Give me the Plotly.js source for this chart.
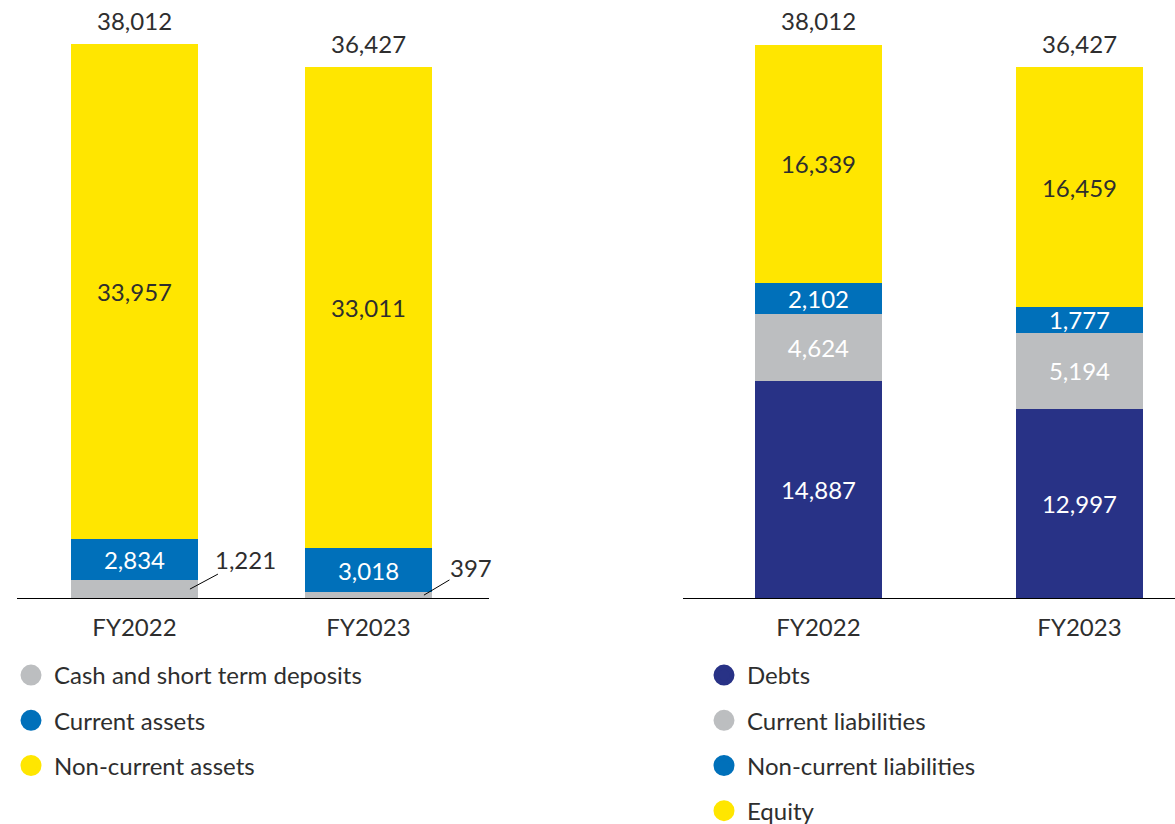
<!DOCTYPE html>
<html>
<head>
<meta charset="utf-8">
<script src="https://cdn.plot.ly/plotly-3.0.1.min.js"></script>
<style>html,body{margin:0;padding:0;background:#fff;}#chart{width:1175px;height:824px;}</style>
</head>
<body>
<div id="chart"></div>
<script>
// ---- data ----
const years = ['FY2022', 'FY2023'];
const cashDeposits = [1221, 397];
const currentAssets = [2834, 3018];
const nonCurrentAssets = [33957, 33011];
const assetTotals = [38012, 36427];

const debts = [14887, 12997];
const currentLiabilities = [4624, 5194];
const nonCurrentLiabilities = [2102, 1777];
const equity = [16339, 16459];
const liabTotals = [38012, 36427];

// ---- styles ----
const FONT = 'Lato, "Open Sans", sans-serif';
const FS = 24;
const DARK = '#2e2e2e';
const C_GRAY = '#BCBEC0', C_BLUE = '#0070BA', C_YELLOW = '#FFE600', C_NAVY = '#283286';
const fmt = v => v.toLocaleString('en-US');

function barTrace(name, vals, color, txtColor, xa, ya, width, showText) {
  return {
    type: 'bar', name: name, x: years, y: vals, xaxis: xa, yaxis: ya,
    width: width, showlegend: false, hoverinfo: 'skip',
    marker: {color: color, line: {width: 0}},
    text: showText ? vals.map(fmt) : null,
    texttemplate: showText ? '%{text}' : '',
    textposition: showText ? 'inside' : 'none',
    insidetextanchor: 'middle', textangle: 0, constraintext: 'none',
    textfont: {family: FONT, size: FS, color: txtColor}
  };
}
function legendTrace(name, color, legendId) {
  return {
    type: 'scatter', mode: 'markers', name: name, x: [null], y: [null],
    xaxis: 'x', yaxis: 'y', legend: legendId, legendgroup: name,
    marker: {symbol: 'circle', size: 16, color: color, line: {color: color, width: 5}},
    hoverinfo: 'skip'
  };
}

const WL = 0.543, WR = 0.487;
const data = [
  barTrace('Cash and short term deposits', cashDeposits, C_GRAY, DARK, 'x', 'y', WL, false),
  barTrace('Current assets', currentAssets, C_BLUE, '#ffffff', 'x', 'y', WL, true),
  barTrace('Non-current assets', nonCurrentAssets, C_YELLOW, DARK, 'x', 'y', WL, true),
  barTrace('Debts', debts, C_NAVY, '#ffffff', 'x2', 'y2', WR, true),
  barTrace('Current liabilities', currentLiabilities, C_GRAY, '#ffffff', 'x2', 'y2', WR, true),
  barTrace('Non-current liabilities', nonCurrentLiabilities, C_BLUE, '#ffffff', 'x2', 'y2', WR, true),
  barTrace('Equity', equity, C_YELLOW, DARK, 'x2', 'y2', WR, true),
  legendTrace('Cash and short term deposits', C_GRAY, 'legend'),
  legendTrace('Current assets', C_BLUE, 'legend'),
  legendTrace('Non-current assets', C_YELLOW, 'legend'),
  legendTrace('Debts', C_NAVY, 'legend2'),
  legendTrace('Current liabilities', C_GRAY, 'legend2'),
  legendTrace('Non-current liabilities', C_BLUE, 'legend2'),
  legendTrace('Equity', C_YELLOW, 'legend2')
];

const annotations = [];
years.forEach((yr, i) => {
  annotations.push({xref: 'x', yref: 'y', x: i, y: assetTotals[i], text: fmt(assetTotals[i]),
    showarrow: false, yanchor: 'bottom', yshift: 7, font: {family: FONT, size: FS, color: DARK}});
  annotations.push({xref: 'x2', yref: 'y2', x: i, y: liabTotals[i], text: fmt(liabTotals[i]),
    showarrow: false, yanchor: 'bottom', yshift: 7, font: {family: FONT, size: FS, color: DARK}});
});
const cashOffsets = [[56, -30], [47, -28]];
years.forEach((yr, i) => {
  annotations.push({xref: 'x', yref: 'y', x: i + 0.237, y: cashDeposits[i] / 2,
    text: fmt(cashDeposits[i]), showarrow: true, arrowhead: 0, arrowwidth: 1, arrowcolor: '#000',
    standoff: 0, ax: cashOffsets[i][0], ay: cashOffsets[i][1], borderpad: 0,
    font: {family: FONT, size: FS, color: DARK}});
});

const yTop = 41030;
const yDom = [1 - 598 / 824, 1];
const xCommon = {type: 'category', showline: true, linecolor: '#000', linewidth: 1,
  ticks: '', showgrid: false, zeroline: false, fixedrange: true, ticklabelstandoff: 8,
  tickfont: {family: FONT, size: FS, color: DARK}};
const yCommon = {range: [0, yTop], domain: yDom, visible: false, showgrid: false, zeroline: false, fixedrange: true};

const legendCommon = {orientation: 'v', traceorder: 'grouped', tracegroupgap: 11, itemwidth: 36,
  font: {family: FONT, size: FS, color: DARK}, bgcolor: 'rgba(0,0,0,0)',
  xref: 'container', yref: 'container',
  xanchor: 'left', yanchor: 'top', itemclick: false, itemdoubleclick: false};

const layout = {
  width: 1175, height: 824,
  margin: {l: 0, r: 0, t: 0, b: 0, autoexpand: false},
  paper_bgcolor: '#fff', plot_bgcolor: '#fff',
  barmode: 'stack', bargap: 0,
  font: {family: FONT, color: DARK},
  xaxis: Object.assign({}, xCommon, {domain: [17 / 1175, 489 / 1175], range: [-0.502, 1.515], anchor: 'y'}),
  yaxis: Object.assign({}, yCommon, {anchor: 'x'}),
  xaxis2: Object.assign({}, xCommon, {domain: [683 / 1175, 1], range: [-0.519, 1.366], anchor: 'y2'}),
  yaxis2: Object.assign({}, yCommon, {anchor: 'x2'}),
  legend: Object.assign({}, legendCommon, {x: 8 / 1175, y: 1 - 653 / 824}),
  legend2: Object.assign({}, legendCommon, {x: 701 / 1175, y: 1 - 653 / 824}),
  annotations: annotations,
  showlegend: true
};

Plotly.newPlot('chart', data, layout, {displayModeBar: false, staticPlot: true});
</script>
</body>
</html>
